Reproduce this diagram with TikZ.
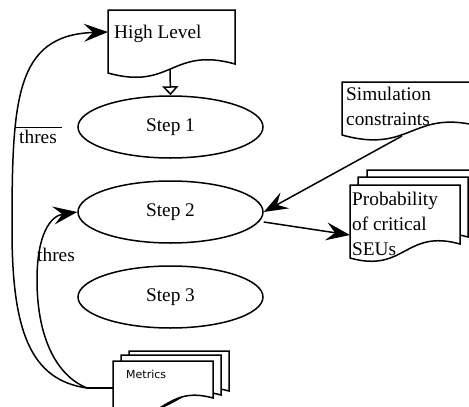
\documentclass[tikz,border=0pt]{standalone}
\usepackage{fontspec}
\setmainfont{Liberation Serif}
\newfontfamily\metfont{DejaVu Sans}
\usetikzlibrary{arrows.meta,shapes.geometric}
\newcommand{\mydoc}[6]{%
  \pgfmathsetmacro\dmid{(#2+#4)/2}%
  \pgfmathsetmacro\damp{0.14*(#4-#2)}%
  \pgfmathsetmacro\dup{#6-\damp}%
  \pgfmathsetmacro\ddn{#5+\damp}%
  \path[#1] (#2,#3) -- (#4,#3) -- (#4,#6) .. controls (\dmid,\dup) and (\dmid,\ddn) .. (#2,#5) -- cycle;}
\tikzset{
  docbox/.style={draw, fill=white, line width=1.5pt},
  txt/.style={font=\fontsize{19.3}{25}\selectfont, inner sep=0pt},
  stepell/.style={ellipse, draw, line width=1.5pt, minimum width=185pt, minimum height=62pt, inner sep=0pt, font=\fontsize{19.3}{25}\selectfont},
  bigarrow/.style={line width=1.5pt, -{Stealth[length=24pt,width=18pt,inset=9pt]}},
  openarrow/.style={line width=1.5pt, -{Triangle[open,length=9pt,width=16pt]}},
  conn/.style={line width=1.5pt}
}
\begin{document}
\begin{tikzpicture}[x=1pt,y=-1pt]
\path[use as bounding box] (0,0) rectangle (469,407);
\clip (0,0) rectangle (469,407);
\fill[white] (0,0) rectangle (469,407);

% High Level document
\mydoc{docbox}{108}{10}{235}{73}{64}
\node[txt, anchor=base west] (hl) at (114,38) {High Level};
\coordinate (hlW) at (108,32);
\coordinate (hlS) at (170,69);

% Steps
\node[stepell] (s1) at (170.5,127) {Step 1};
\node[stepell] (s2) at (170.5,212) {Step 2};
\node[stepell] (s3) at (170.5,297) {Step 3};

% Simulation constraints
\mydoc{docbox}{342}{82}{482}{135}{127}
\node[txt, anchor=base west] (sim1) at (346,100) {Simulation};
\node[txt, anchor=base west] (sim2) at (346,125) {constraints};
\coordinate (simS) at (402,136);

% Probability stack
\mydoc{docbox}{367}{170}{477}{243}{230}
\mydoc{docbox}{358}{177}{468}{250}{237}
\mydoc{docbox}{350}{185}{460}{258}{244}
\node[txt, anchor=base west] (pr1) at (352,205) {Probability};
\node[txt, anchor=base west] (pr2) at (352,230) {of critical};
\node[txt, anchor=base west] (pr3) at (352,255) {SEUs};
\coordinate (prW) at (350,235);

% Metrics stack
\mydoc{docbox}{129}{351}{229}{406}{391}
\mydoc{docbox}{121}{355}{221}{410}{395}
\mydoc{docbox}{113}{361}{213}{414}{398}
\node[font=\metfont\fontsize{11}{13}\selectfont, anchor=west, inner sep=0pt] (met) at (126,374) {Metrics};
\coordinate (metW) at (113,388);
\coordinate (j) at (87,388);

% thres labels
\node[txt] (th1) at (38,137) {thres};
\draw[line width=0.8pt] ([xshift=-3pt,yshift=3pt]th1.north west) -- ([xshift=5pt,yshift=3pt]th1.north east);
\node[txt] (th2) at (56,255) {thres};

% Connectors
\draw[conn] (j) -- (metW);
\draw[bigarrow] (j) .. controls (30,380) and (12,330) .. (12,230) .. controls (12,100) and (15,35) .. (hlW);
\draw[bigarrow] (j) .. controls (55,375) and (37,335) .. (37,280) .. controls (37,235) and (50,216) .. (s2.west);
\draw[openarrow] (hlS) -- (s1.north);
\draw[bigarrow] (simS) -- (s2.east);
\draw[bigarrow] ([yshift=-10pt]s2.east) -- (prW);
\end{tikzpicture}
\end{document}
